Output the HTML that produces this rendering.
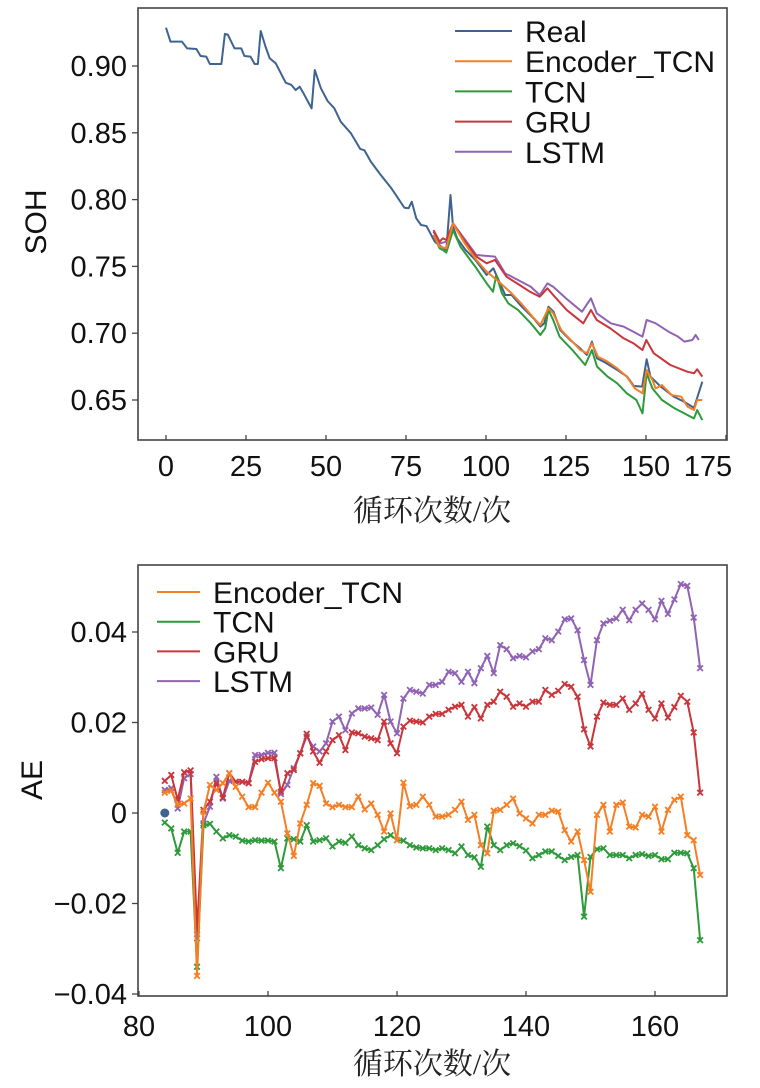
<!DOCTYPE html>
<html><head><meta charset="utf-8"><style>
html,body{margin:0;padding:0;background:#fff;}
svg{display:block;font-family:"Liberation Sans",Arial,sans-serif;}
.cjk{font-family:"Liberation Serif","Noto Serif CJK SC","Noto Sans CJK SC",serif;}
</style></head><body>
<svg id="chart" width="760" height="1088" viewBox="0 0 760 1088" xmlns="http://www.w3.org/2000/svg"></svg>
<script>
// ---------- Top chart data (SOH) ----------
const realCycles=[0,1.4,5,6.6,9.5,10.8,12.6,13.7,17.3,18.4,19.3,21.4,23.5,24.5,26.4,27.7,28.7,29.6,31.1,32.4,34.3,37.4,39.2,40.5,41.8,42.8,45.5,46.5,48.4,50.5,52.6,54.6,57.8,60.7,62,64,66.7,70.3,72.4,74.5,75.8,76.8,78.2,79.7,81.4,84,86,87.6,88.9,89.7,91,93.6,96.7,100.2,102.3,104.4,106,108,110.7,114.9,117,118.2,119.5,121.1,123.2,126.3,129.4,131.5,133.1,134.7,137.3,141,144.1,146.2,148.8,150.2,151.4,154.6,158.7,161.9,165,167.6];
const realSOH=[0.9287,0.9182,0.9182,0.9132,0.9127,0.9075,0.907,0.9015,0.9015,0.924,0.9235,0.9132,0.9132,0.9075,0.907,0.9015,0.9015,0.9262,0.9145,0.9058,0.902,0.8875,0.8858,0.882,0.8845,0.8803,0.8683,0.897,0.8833,0.8738,0.8683,0.8583,0.8496,0.8379,0.8369,0.8284,0.8197,0.8089,0.8014,0.7939,0.7935,0.7984,0.786,0.781,0.7802,0.7685,0.7648,0.7623,0.8034,0.7797,0.771,0.7623,0.7548,0.7436,0.7486,0.7373,0.7286,0.7286,0.7211,0.7111,0.7049,0.7074,0.7198,0.7161,0.7024,0.6949,0.6887,0.6837,0.6937,0.6812,0.678,0.6725,0.6675,0.6605,0.66,0.6805,0.6675,0.66,0.6525,0.6487,0.6442,0.6637];
const gruCycles=[83.6,85.5,86.5,87.6,89.7,92.8,97,100.2,102.8,106.4,110.5,113.7,116.8,119.2,121,125.2,130.4,132.8,134.6,138.8,143,146.1,148.9,150.1,152.4,157.6,162.9,165,166,167.6];
const gruSOH=[0.7772,0.7685,0.771,0.7698,0.7822,0.771,0.7573,0.7523,0.7548,0.7423,0.7361,0.7311,0.7273,0.7336,0.7286,0.7174,0.7074,0.7174,0.7099,0.7037,0.6962,0.6924,0.6874,0.6949,0.685,0.6762,0.6712,0.67,0.673,0.6675];
const lstmCycles=[83.6,85.5,87.6,89.7,97,102.8,106,110,114,116.8,119.2,121,125,130,132.8,134.6,139,143,146,148.9,150.2,153,157,160,162,164.5,165.5,166.5];
const lstmSOH=[0.7760,0.7672,0.7685,0.7822,0.7585,0.7573,0.7448,0.7398,0.7348,0.7286,0.7373,0.7348,0.7261,0.7161,0.7261,0.7149,0.7074,0.7049,0.7012,0.6974,0.7099,0.7074,0.7012,0.6974,0.6937,0.6949,0.6987,0.6949];
const encCycles=[83.6,85.5,87.6,89.7,93,97,100.2,104,108,111,115,117,119.5,121,123.5,126.5,129.5,131.5,133.1,135,138,141,144,146.5,148.9,150.2,152,153,155,158,161,163,165,166,167.6];
const encSOH=[0.7735,0.7648,0.7635,0.7822,0.7685,0.7548,0.7461,0.7386,0.7298,0.7223,0.7111,0.7061,0.7186,0.7149,0.7024,0.6949,0.6874,0.685,0.6924,0.6824,0.6787,0.6737,0.6675,0.6587,0.655,0.6725,0.665,0.6587,0.6612,0.6537,0.6525,0.645,0.6425,0.65,0.65];
const tcnCycles=[83.6,85.5,86.5,87.6,89.7,92,97,100.2,102.2,103.2,105,107,110,114,117,118.5,119.5,121,123,127,131,133.1,134.7,138,141,144,147,148.9,150.2,152,155,159,163,165,166,167.6];
const tcnSOH=[0.7735,0.7635,0.7623,0.7603,0.7772,0.7648,0.7486,0.7373,0.7311,0.7436,0.7298,0.7223,0.7174,0.7074,0.6987,0.7037,0.7174,0.7099,0.6974,0.6874,0.6762,0.6874,0.675,0.6675,0.6625,0.655,0.65,0.64,0.67,0.6587,0.65,0.6437,0.6387,0.6362,0.6425,0.635];
const topXTicks=[0,25,50,75,100,125,150,175];
const topYTicks=[0.65,0.70,0.75,0.80,0.85,0.90];
const topYLabels=["0.65","0.70","0.75","0.80","0.85","0.90"];
const topLegend=["Real","Encoder_TCN","TCN","GRU","LSTM"];

// ---------- Bottom chart data (AE, x1e-3) ----------
const aeStartCycle=84;
const aeEnc=[4.5,4.9,1.8,2.1,3.2,-36.0,0.3,6.2,5.1,6.6, 8.8,5.8,3.6,1.3,1.3,4.5,6.7,4.5,2.5,-4.5, -9.5,-2.3,1.8,6.6,6.0,2.1,1.3,1.8,1.3,1.3, 3.6,0.8,2.1,-0.4,-4.1,-0.1,-6.0,6.7,1.5,1.8, 3.6,1.8,-0.8, -0.8,-0.4,0.7,2.5,-1.5,-0.4,-7.1,-8.9,0.5,0.7, 1.8,3.2,-0.1,-1.2,-2.3,-0.4,-0.4,0.5,0.3,-3.8, -6.3,-4.1,-10.4,-17.4,-0.4,1.8,-4.1,1.8,2.3,-3.0, -3.2,-0.4,-0.8,1.4,-4.1,0.7,2.9,3.6,-4.9,-6.0,-13.7];
const aeTcn=[-2.1,-3.4,-8.8,-4.1,-4.1,-34.0,-2.7,-2.4,-4.1,-5.6, -4.9,-5.2,-6.1,-6.3,-6.0,-6.1,-6.1,-6.3,-12.2,-5.6, -5.8,-6.3,-2.7,-6.3,-6.0,-5.6,-7.4,-6.3,-6.6,-5.2, -7.1,-7.8,-8.2,-7.1,-5.8,-4.9,-6.0,-6.1,-7.1,-7.6, -7.8,-7.8,-8.2, -7.8,-8.2,-8.9,-7.4,-9.3,-9.8,-11.9,-3.0,-7.1,-8.2, -7.1,-6.7,-7.3,-8.3,-10.0,-9.3,-8.5,-8.5,-9.5,-10.4, -9.7,-9.3,-22.9,-9.7,-8.0,-7.8,-9.3,-9.3,-9.3,-10.0, -9.3,-9.1,-9.5,-9.3,-10.2,-10.2,-8.8,-8.8,-8.9,-12.2,-28.1];
const aeGru=[7.1,8.4,2.9,9.0,9.4,-25.9,0.7,2.5,6.6,3.4, 8.8,6.9,6.9,6.6,11.3,11.9,12.1,12.1,4.7,8.8, 9.5,13.2,17.5,13.6,11.1,13.6,16.1,17.2,13.9,17.8, 17.6,16.9,16.5,16.1,20.2,15.4,13.2,19.1,20.4,20.2, 20.0,21.3,21.9, 21.9,22.8,23.5,23.9,21.3,23.4,20.9,23.9,24.6,26.8, 25.7,23.5,24.2,23.5,24.6,24.6,27.2,26.1,27.0,28.5, 27.9,25.7,18.5,14.7,21.3,24.4,23.9,23.9,25.3,22.8, 24.2,26.3,22.8,20.9,24.2,21.1,23.4,25.9,24.6,17.8,4.5];
const aeLstm=[5.1,5.5,1.0,7.7,8.6,-27.7,-2.3,1.4,8.0,3.2, 7.1,6.9,6.9,6.6,12.8,12.8,13.3,13.3,4.2,6.2, 9.9,13.2,16.9,14.7,13.6,15.4,20.2,21.3,18.3,22.0, 23.1,23.1,23.3,21.7,26.1,20.2,17.6,25.3,27.2,26.8, 26.4,28.3,28.3, 29.0,31.2,30.9,29.0,31.2,28.7,32.0,34.7,30.9,37.1, 36.2,34.2,34.7,34.4,35.7,36.2,38.6,38.2,40.1,42.8, 43.0,40.4,33.8,28.3,38.2,41.9,42.5,43.0,44.9,42.6, 44.9,46.3,44.9,42.8,46.9,44.0,47.2,50.6,50.2,43.2,32.0];
const aeRealPoint=[84,0];
const botXTicks=[80,100,120,140,160];
const botYTicks=[-0.04,-0.02,0,0.02,0.04];
const botYLabels=["\u22120.04","\u22120.02","0","0.02","0.04"];
const botLegend=["Encoder_TCN","TCN","GRU","LSTM"];

const C={real:"#3f6390",enc:"#f57f25",tcn:"#2e9a3b",gru:"#c9363b",lstm:"#9063b4"};
const NS="http://www.w3.org/2000/svg";
const svg=document.getElementById('chart');
function mk(tag,attrs,parent){const e=document.createElementNS(NS,tag);for(const k in attrs)e.setAttribute(k,attrs[k]);(parent||svg).appendChild(e);return e;}

const tx=c=>166+c*3.2;
const ty=v=>66+(0.90-v)*1336;
const bx=c=>139+(c-80)*6.45;
const by=v=>813-v*4525;
const FS=29;

function frame(name,x0,y0,x1,y1){
  const r=mk('rect',{x:x0,y:y0,width:x1-x0,height:y1-y0,fill:'none',stroke:'#444','stroke-width':1.6});
  
  
}
// ---- top chart ----
const gTop=mk('g',{});


frame('soh-plot-area',138,8,727,440);
topXTicks.forEach(t=>{
  const l=mk('line',{x1:tx(t),x2:tx(t),y1:440,y2:435,stroke:'#444','stroke-width':1.3},gTop);
  
  
  const s=mk('text',{x:Math.min(tx(t),708),y:476,'font-size':FS,'text-anchor':'middle',fill:'#111'},gTop);s.textContent=t;
  
  
});
topYTicks.forEach((t,i)=>{
  const l=mk('line',{x1:132,x2:138,y1:ty(t),y2:ty(t),stroke:'#444','stroke-width':1.3},gTop);
  
  
  const s=mk('text',{x:127,y:ty(t)+10,'font-size':FS,'text-anchor':'end',fill:'#111'},gTop);s.textContent=topYLabels[i];
  
  
});
function topLine(name,xs,ys,col){
  const p=mk('polyline',{points:xs.map((c,i)=>tx(c)+','+ty(ys[i])).join(' '),fill:'none',stroke:col,'stroke-width':2,'stroke-linejoin':'round'},gTop);
  
  
}
topLine('real-line',realCycles,realSOH,C.real);
topLine('lstm-line',lstmCycles,lstmSOH,C.lstm);
topLine('gru-line',gruCycles,gruSOH,C.gru);
topLine('tcn-line',tcnCycles,tcnSOH,C.tcn);
topLine('encoder-tcn-line',encCycles,encSOH,C.enc);
const topCols=[C.real,C.enc,C.tcn,C.gru,C.lstm];
topLegend.forEach((n,i)=>{
  const y=31+i*30.2;
  const l=mk('line',{x1:455,x2:512,y1:y,y2:y,stroke:topCols[i],'stroke-width':2},gTop);
  
  
  const s=mk('text',{x:525,y:y+11,'font-size':30,fill:'#111'},gTop);s.textContent=n;
  
  
});
const yt=mk('text',{x:0,y:0,'font-size':30,'text-anchor':'middle',fill:'#111',transform:'translate(46,222) rotate(-90)'},gTop);yt.textContent='SOH';


const xt=mk('text',{x:432,y:521,'font-size':30,'text-anchor':'middle',fill:'#222',class:'cjk'},gTop);xt.textContent='循环次数/次';



// ---- bottom chart ----
const gB=mk('g',{});


frame('ae-plot-area',138,565,727,996);
botXTicks.forEach(t=>{
  const l=mk('line',{x1:bx(t),x2:bx(t),y1:996,y2:991,stroke:'#444','stroke-width':1.3},gB);
  
  
  const s=mk('text',{x:bx(t),y:1036,'font-size':FS,'text-anchor':'middle',fill:'#111'},gB);s.textContent=t;
  
  
});
botYTicks.forEach((t,i)=>{
  const l=mk('line',{x1:132,x2:138,y1:by(t),y2:by(t),stroke:'#444','stroke-width':1.3},gB);
  
  
  const s=mk('text',{x:127,y:by(t)+10,'font-size':FS,'text-anchor':'end',fill:'#111'},gB);s.textContent=botYLabels[i];
  
  
});
function aeSeries(name,vals,col){
  const g=mk('g',{},gB);
  
  
  const pts=vals.map((v,i)=>[bx(aeStartCycle+i),by(v/1000)]);
  mk('polyline',{points:pts.map(p=>p[0]+','+p[1]).join(' '),fill:'none',stroke:col,'stroke-width':2,'stroke-linejoin':'round'},g);
  pts.forEach(p=>{
    const m=mk('path',{d:`M${p[0]-2.8},${p[1]-2.8}L${p[0]+2.8},${p[1]+2.8}M${p[0]-2.8},${p[1]+2.8}L${p[0]+2.8},${p[1]-2.8}`,stroke:col,'stroke-width':1.8,fill:'none'},g);
    
    
  });
}
aeSeries('lstm-ae-series',aeLstm,C.lstm);
aeSeries('gru-ae-series',aeGru,C.gru);
aeSeries('tcn-ae-series',aeTcn,C.tcn);
aeSeries('encoder-tcn-ae-series',aeEnc,C.enc);
const dot=mk('circle',{cx:bx(aeRealPoint[0]),cy:by(aeRealPoint[1]),r:4.5,fill:C.real},gB);


const botCols=[C.enc,C.tcn,C.gru,C.lstm];
botLegend.forEach((n,i)=>{
  const y=592+i*29.7;
  const l=mk('line',{x1:157,x2:200,y1:y,y2:y,stroke:botCols[i],'stroke-width':2},gB);
  
  
  const s=mk('text',{x:213,y:y+11,'font-size':30,fill:'#111'},gB);s.textContent=n;
  
  
});
const yt2=mk('text',{x:0,y:0,'font-size':30,'text-anchor':'middle',fill:'#111',transform:'translate(42,780) rotate(-90)'},gB);yt2.textContent='AE';


const xt2=mk('text',{x:432,y:1074,'font-size':30,'text-anchor':'middle',fill:'#222',class:'cjk'},gB);xt2.textContent='循环次数/次';


</script>
</body></html>
